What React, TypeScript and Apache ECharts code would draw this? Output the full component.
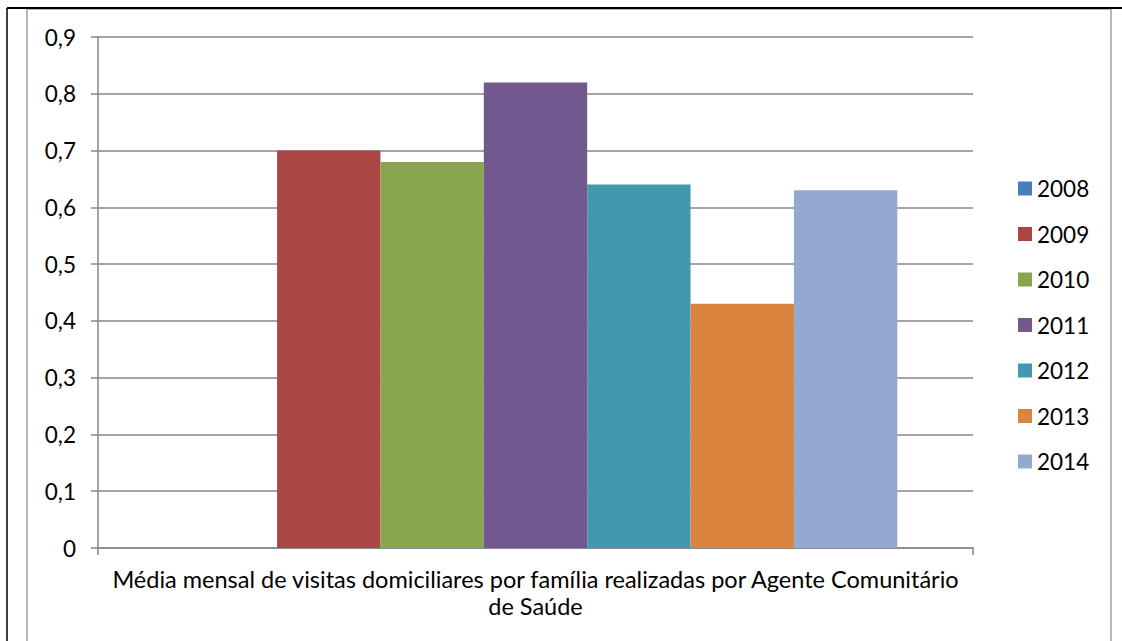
import React, { useEffect, useRef } from "react";
import * as echarts from "echarts";

const categories = ["Média mensal de visitas domiciliares por família realizadas por Agente Comunitário\nde Saúde"];
const years = ["2008", "2009", "2010", "2011", "2012", "2013", "2014"];
const values = [0, 0.7, 0.68, 0.82, 0.64, 0.43, 0.63];
const colors = ["#4a7ebb", "#aa4643", "#89a54e", "#71588f", "#4198af", "#db843d", "#93a9cf"];
const yTicks = { min: 0, max: 0.9, interval: 0.1 };

const FONT = "Lato, 'Open Sans', sans-serif";
const FS = 22.5;

export default function App() {
  const ref = useRef<HTMLDivElement>(null);
  useEffect(() => {
    document.body.style.margin = "0";
    const chart = echarts.init(ref.current!, null, { renderer: "svg" });
    chart.setOption({
      animation: false,
      backgroundColor: "#ffffff",
      textStyle: { fontFamily: FONT },
      grid: { left: 98, right: 149, top: 37, bottom: 93 },
      legend: {
        orient: "vertical",
        left: 1013,
        top: 172,
        itemWidth: 14,
        itemHeight: 14,
        itemGap: 22.5,
        icon: "rect",
        textStyle: { fontSize: FS, lineHeight: 22, color: "#000", fontFamily: FONT },
        data: years,
      },
      xAxis: {
        type: "category",
        data: categories,
        axisLine: { lineStyle: { color: "#868686", width: 1.5 } },
        axisTick: { show: true, length: 7, lineStyle: { color: "#868686", width: 1.5 } },
        axisLabel: { fontSize: 23.5, color: "#000", lineHeight: 27, margin: 17, fontFamily: FONT },
      },
      yAxis: {
        type: "value",
        min: yTicks.min,
        max: yTicks.max,
        interval: yTicks.interval,
        axisLine: { show: true, lineStyle: { color: "#868686", width: 1.5 } },
        axisTick: { show: true, length: 7, lineStyle: { color: "#868686", width: 1.5 } },
        splitLine: { lineStyle: { color: "#868686", width: 1.5 } },
        axisLabel: {
          fontSize: FS,
          color: "#000",
          margin: 22,
          fontFamily: FONT,
          formatter: (v: number) => (Math.round(v * 10) / 10).toString().replace(".", ","),
        },
      },
      series: years.map((y, i) => ({
        name: y,
        type: "bar",
        data: [values[i]],
        itemStyle: { color: colors[i] },
        barGap: "0%",
        barCategoryGap: "17.3%",
      })),
      graphic: [
        { type: "rect", shape: { x: 27, y: 9, width: 1084, height: 645 }, style: { fill: "none", stroke: "#a0a0a0", lineWidth: 1.5 }, silent: true },
        { type: "line", shape: { x1: 7, y1: 8, x2: 1122, y2: 8 }, style: { stroke: "#000", lineWidth: 2 }, silent: true },
        { type: "line", shape: { x1: 7, y1: 8, x2: 7, y2: 641 }, style: { stroke: "#000", lineWidth: 1.5 }, silent: true },
      ],
    });
    return () => chart.dispose();
  }, []);
  return <div ref={ref} style={{ position: "fixed", left: 0, top: 0, width: 1122, height: 641 }} />;
}
